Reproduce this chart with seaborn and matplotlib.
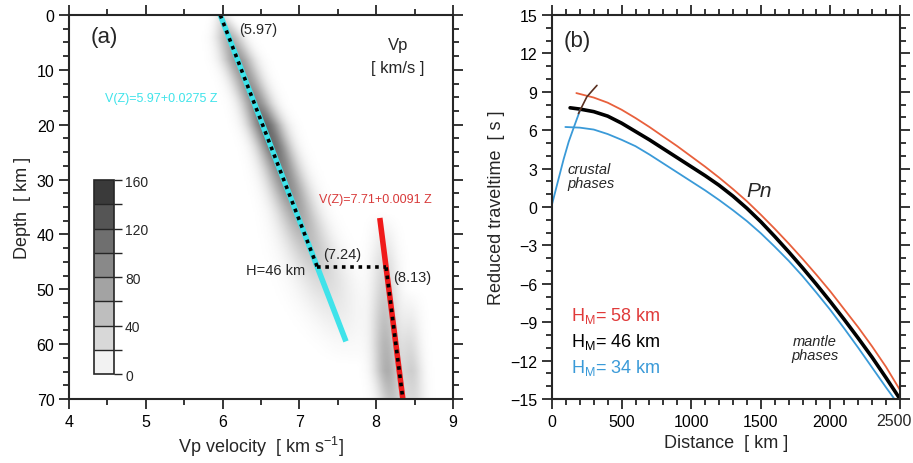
import matplotlib
matplotlib.use("Agg")
import matplotlib.pyplot as plt
import numpy as np
import pandas as pd
import seaborn as sns
from matplotlib.colors import BoundaryNorm, LinearSegmentedColormap
from matplotlib.cm import ScalarMappable
from matplotlib.ticker import MultipleLocator

# ---- panel (a): velocity model ----
crust_v0, crust_grad = 5.97, 0.0275
mantle_v0, mantle_grad = 7.71, 0.0091
moho_depth = 46
moho_labels = ["7.24", "8.13"]
crust_line_depth = [0, 59.5]
mantle_line_depth = [37, 70]

# density ridges (depth nodes, centre velocity, hits, width)
crust_ridge_depth = [0, 4, 8, 12, 16, 20, 24, 28, 32, 36, 40, 44, 48, 52, 56, 60, 64]
crust_ridge_vel = [5.99, 6.09, 6.2, 6.32, 6.44, 6.56, 6.67, 6.77, 6.87, 6.97, 7.07,
                   7.18, 7.3, 7.4, 7.5, 7.6, 7.7]
crust_ridge_hits = [20, 60, 80, 80, 90, 115, 110, 95, 85, 70, 55, 42, 30, 20, 12, 5, 0]
crust_ridge_width = [0.07, 0.12, 0.14, 0.14, 0.14, 0.15, 0.15, 0.16, 0.17, 0.18, 0.2,
                     0.22, 0.24, 0.25, 0.24, 0.22, 0.2]

mantle_ridge_depth = [36, 40, 45, 50, 55, 60, 65, 70]
mantle_ridge_vel = [8.08, 8.1, 8.11, 8.12, 8.12, 8.13, 8.15, 8.2]
mantle_ridge_hits = [0, 12, 25, 35, 45, 55, 62, 45]
mantle_ridge_width = [0.1, 0.11, 0.12, 0.12, 0.12, 0.12, 0.12, 0.12]

mantle2_ridge_depth = [50, 55, 60, 65, 70]
mantle2_ridge_vel = [8.45, 8.45, 8.45, 8.47, 8.5]
mantle2_ridge_hits = [0, 12, 25, 35, 25]
mantle2_ridge_width = [0.1, 0.1, 0.1, 0.1, 0.1]

cbar_levels = [0, 20, 40, 60, 80, 100, 120, 140, 160]

# ---- panel (b): reduced traveltimes ----
h46_dist = [130, 200, 300, 400, 500, 600, 700, 800, 900, 1000, 1100, 1200, 1300,
            1400, 1500, 1600, 1700, 1800, 1900, 2000, 2100, 2200, 2300, 2400, 2500]
h46_time = [7.75, 7.65, 7.45, 7.1, 6.55, 5.9, 5.25, 4.55, 3.85, 3.15, 2.45, 1.7, 0.85,
            -0.1, -1.15, -2.3, -3.5, -4.75, -6.05, -7.4, -8.8, -10.25, -11.75, -13.35,
            -15.0]

h58_dist = [175, 300, 400, 500, 600, 700, 800, 900, 1000, 1100, 1200, 1300, 1400,
            1500, 1600, 1700, 1800, 1900, 2000, 2100, 2200, 2300, 2400, 2500]
h58_time = [8.9, 8.55, 8.15, 7.6, 6.95, 6.25, 5.5, 4.75, 3.95, 3.15, 2.3, 1.4, 0.45,
            -0.6, -1.7, -2.85, -4.05, -5.3, -6.6, -8.0, -9.4, -10.9, -12.5, -14.3]

h34_dist = [96, 200, 300, 400, 500, 600, 700, 800, 900, 1000, 1100, 1200, 1300,
            1400, 1500, 1600, 1700, 1800, 1900, 2000, 2100, 2200, 2300, 2400, 2460]
h34_time = [6.25, 6.2, 6.05, 5.7, 5.25, 4.75, 4.1, 3.4, 2.7, 2.0, 1.3, 0.55, -0.25,
            -1.1, -2.05, -3.1, -4.2, -5.4, -6.7, -8.05, -9.5, -11.0, -12.55, -14.1, -15.0]

crustal_dist = [0, 40, 84, 120, 156, 203]
crustal_time = [0.2, 1.9, 3.75, 5.1, 6.2, 7.6]
crustal_top_dist = [190, 250, 290, 323]
crustal_top_time = [7.3, 8.6, 9.1, 9.5]

dist_ticks = [0, 500, 1000, 1500, 2000, 2500]

RED = "#e8603c"
BLUE = "#3a9ad8"
CYAN = "#3fe3ea"

sns.set_theme(style="ticks")
plt.rcParams["font.family"] = ["Liberation Sans", "DejaVu Sans"]
plt.rcParams["mathtext.fontset"] = "custom"
plt.rcParams["mathtext.rm"] = "Liberation Sans"
plt.rcParams["mathtext.it"] = "Liberation Sans:italic"

fig = plt.figure(figsize=(9.13, 4.64), dpi=100)
ax1 = fig.add_axes([69 / 913, 64 / 464, 384 / 913, 384 / 464])
ax2 = fig.add_axes([552 / 913, 64 / 464, 348 / 913, 384 / 464])


def ridge(depth_grid, vel_grid, d, v, h, w):
    c = np.interp(depth_grid, d, v)
    a = np.interp(depth_grid, d, h)
    s = np.interp(depth_grid, d, w)
    return a[:, None] * np.exp(-0.5 * ((vel_grid[None, :] - c[:, None]) / s[:, None]) ** 2)


vel_grid = np.linspace(4, 9, 301)
depth_grid = np.linspace(0, 70, 281)
field = (ridge(depth_grid, vel_grid, crust_ridge_depth, crust_ridge_vel,
               crust_ridge_hits, crust_ridge_width)
         + ridge(depth_grid, vel_grid, mantle_ridge_depth, mantle_ridge_vel,
                 mantle_ridge_hits, mantle_ridge_width)
         + ridge(depth_grid, vel_grid, mantle2_ridge_depth, mantle2_ridge_vel,
                 mantle2_ridge_hits, mantle2_ridge_width))

gray_cmap = LinearSegmentedColormap.from_list("hits", ["#ffffff", "#2e2e2e"])
ax1.imshow(field, extent=[4, 9, 70, 0], cmap=gray_cmap, vmin=0, vmax=160,
           aspect="auto", interpolation="bilinear", zorder=0)

# crust & mantle gradients
cz = np.array(crust_line_depth)
mz = np.array(mantle_line_depth)
crust = pd.DataFrame({"z": cz, "v": crust_v0 + crust_grad * cz})
mantle = pd.DataFrame({"z": mz, "v": mantle_v0 + mantle_grad * mz})
sns.lineplot(data=crust, x="v", y="z", sort=False, color=CYAN, lw=4, ax=ax1,
             solid_capstyle="butt")
sns.lineplot(data=mantle, x="v", y="z", sort=False, color="#f01a1a", lw=4, ax=ax1,
             solid_capstyle="butt")

cz_dot = np.array([0, moho_depth])
mz_dot = np.array([moho_depth, 70])
v_moho_top = crust_v0 + crust_grad * moho_depth
v_moho_bot = mantle_v0 + mantle_grad * moho_depth
dots = dict(color="black", lw=2.6, linestyle=(0, (1, 1.3)), ax=ax1, sort=False)
sns.lineplot(x=crust_v0 + crust_grad * cz_dot, y=cz_dot, **dots)
sns.lineplot(x=mantle_v0 + mantle_grad * mz_dot, y=mz_dot, **dots)
sns.lineplot(x=[v_moho_top, v_moho_bot], y=[moho_depth, moho_depth], **dots)

ax1.set_xlim(4, 9)
ax1.set_ylim(70, 0)
ax1.xaxis.set_major_locator(MultipleLocator(1))
ax1.xaxis.set_minor_locator(MultipleLocator(0.5))
ax1.yaxis.set_major_locator(MultipleLocator(10))
ax1.yaxis.set_minor_locator(MultipleLocator(2.5))
ax1.set_xlabel("Vp velocity  [ km s$^{-1}$]", fontsize=13)
ax1.set_ylabel("Depth  [ km ]", fontsize=13)

ax1.text(4.28, 4.0, "(a)", fontsize=16, va="center")
ax1.text(6.22, 2.6, f"({crust_v0:.2f})", fontsize=10.5, va="center")
ax1.text(8.28, 5.3, "Vp", fontsize=12, ha="center", va="center")
ax1.text(8.28, 9.6, "[ km/s ]", fontsize=12, ha="center", va="center")
ax1.text(4.47, 15.2, f"V(Z)={crust_v0:.2f}+{crust_grad:.4f} Z", color=CYAN,
         fontsize=9, va="center")
ax1.text(7.26, 33.6, f"V(Z)={mantle_v0:.2f}+{mantle_grad:.4f} Z", color="#d83a3a",
         fontsize=9, va="center")
ax1.text(7.31, 43.6, f"({moho_labels[0]})", fontsize=10.5, va="center")
ax1.text(7.07, 46.4, f"H={moho_depth} km", fontsize=10.5, va="center", ha="right")
ax1.text(8.22, 47.8, f"({moho_labels[1]})", fontsize=10.5, va="center")

# discrete colorbar inset
cax = ax1.inset_axes([0.065, 0.065, 0.052, 0.505])
norm = BoundaryNorm(cbar_levels, 256)
cb_cmap = LinearSegmentedColormap.from_list("cb", ["#f2f2f2", "#3a3a3a"])
cb = fig.colorbar(ScalarMappable(norm=norm, cmap=cb_cmap), cax=cax,
                  ticks=cbar_levels, drawedges=True)
cb.set_ticklabels([str(v) if v % 40 == 0 else "" for v in cbar_levels])
cb.outline.set_linewidth(1.2)
cb.dividers.set_linewidth(1.0)
cax.tick_params(length=6, width=1, labelsize=10, pad=2)

# ---- panel (b) ----
line_kw = dict(ax=ax2, sort=False, estimator=None)
sns.lineplot(x=h34_dist, y=h34_time, color=BLUE, lw=1.3, **line_kw)
sns.lineplot(x=h58_dist, y=h58_time, color=RED, lw=1.3, **line_kw)
sns.lineplot(x=h46_dist, y=h46_time, color="black", lw=2.6, **line_kw)
sns.lineplot(x=crustal_dist, y=crustal_time, color=BLUE, lw=1.3, **line_kw)
sns.lineplot(x=crustal_top_dist, y=crustal_top_time, color="#5a3020", lw=1.2, **line_kw)

ax2.set_xlim(0, 2500)
ax2.set_ylim(-15, 15)
ax2.set_xticks(dist_ticks)
# last label drawn by hand so it stays inside the canvas
ax2.set_xticklabels([str(t) for t in dist_ticks[:-1]] + [""])
ax2.annotate(str(dist_ticks[-1]), xy=(dist_ticks[-1], 0),
             xycoords=("data", "axes fraction"), xytext=(8.5, -10.3),
             textcoords="offset points", ha="right", va="top", fontsize=11.5)
ax2.xaxis.set_minor_locator(MultipleLocator(100))
ax2.yaxis.set_major_locator(MultipleLocator(3))
ax2.yaxis.set_minor_locator(MultipleLocator(1))
ax2.set_xlabel("Distance  [ km ]", fontsize=13)
ax2.set_ylabel("Reduced traveltime  [ s ]", fontsize=13)

ax2.text(85, 13.0, "(b)", fontsize=16, va="center")
ax2.text(110, 2.4, "crustal\nphases", fontsize=10.5, style="italic", va="center",
         linespacing=1.0)
ax2.text(1395, 1.3, "Pn", fontsize=15, style="italic", va="center")
ax2.text(1890, -11.0, "mantle\nphases", fontsize=10.5, style="italic", va="center",
         ha="center", linespacing=1.0)
hm_labels = [("58", "#e03a3a", -8.4), ("46", "black", -10.5), ("34", BLUE, -12.5)]
for h, col, yy in hm_labels:
    ax2.text(140, yy, r"H$_\mathrm{M}$= " + h + " km", fontsize=13, color=col,
             va="center")

for ax in (ax1, ax2):
    for s in ax.spines.values():
        s.set_linewidth(1.5)
        s.set_visible(True)
    ax.tick_params(which="both", direction="out", top=True, right=True,
                   labeltop=False, labelright=False, width=1.1, labelsize=11.5,
                   colors="black")
    ax.tick_params(which="major", length=7)
    ax.tick_params(which="minor", length=4)
    ax.set_facecolor("white")

fig.savefig("out.png", dpi=100, facecolor="white")
